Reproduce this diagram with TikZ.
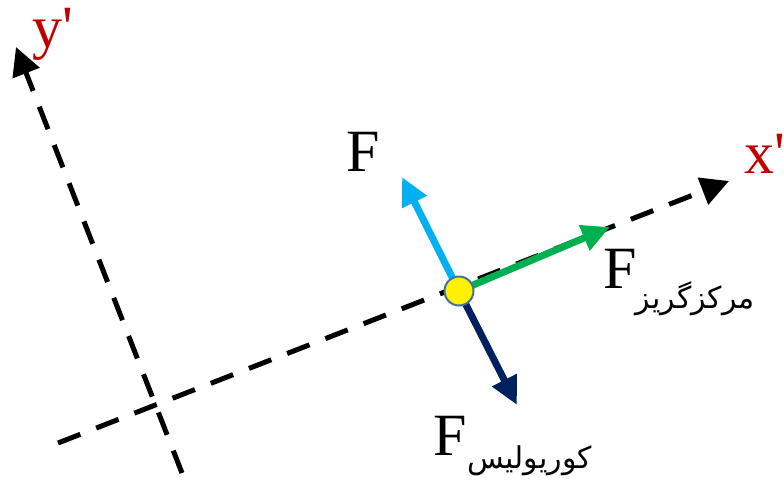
\documentclass[tikz,border=0pt]{standalone}
\usepackage{fontspec}
\usepackage{graphicx}
\usetikzlibrary{arrows.meta}
\TeXXeTstate=1
\newfontfamily\lser{Liberation Serif}
\newfontfamily\arabicfont[Script=Arabic]{DejaVu Sans}
\definecolor{fblue}{HTML}{00B0F0}
\definecolor{fgreen}{HTML}{00B050}
\definecolor{fnavy}{HTML}{002060}
\definecolor{axred}{HTML}{C00000}
\definecolor{rim}{HTML}{41719C}
\tikzset{
  axis/.style={line width=5pt, dash pattern=on 24pt off 17pt, -{Triangle[length=28pt,width=28pt]}},
  force/.style={line width=7pt, -{Triangle[length=28pt,width=26pt]}},
  big/.style={font=\lser\fontsize{60}{60}\selectfont, inner sep=0pt},
  sub/.style={font=\arabicfont\fontsize{30}{30}\selectfont, inner sep=0pt},
}
\begin{document}
\begin{tikzpicture}[x=1pt,y=-1pt]
\useasboundingbox (0,0) rectangle (784,485);
% axes
\coordinate (xs) at (58,443);
\coordinate (xe) at (729,181);
\coordinate (ys) at (182,473);
\coordinate (ye) at (16,47);
\draw[axis] (xs) -- (xe);
\draw[axis] (ys) -- (ye);
% forces
\coordinate (P) at (459,291);
\coordinate (tb) at (402,177);
\coordinate (tg) at (610,227);
\coordinate (tn) at (517,405);
\draw[force, fblue] (P) -- (tb);
\draw[force, fgreen] (P) -- (tg);
\draw[force, fnavy] (P) -- (tn);
\node[circle, draw=rim, line width=2pt, fill=yellow, minimum size=29pt, inner sep=0pt] (p) at (P) {};
% labels
\node[big, anchor=base west] (Fb) at (346,171) {F};
\node[big, anchor=base west] (Fg) at (603,288) {F};
\node[big, anchor=base west] (Fn) at (433,455) {F};
\node[sub, anchor=base east] (sg) at (755,308) {\beginR مرکزگریز\endR};
\node[sub, anchor=base east] (sn) at (592,468) {\beginR کوریولیس\endR};
\node[big, text=axred, anchor=base west] (xl) at (744,173) {x'};
\node[big, text=axred, anchor=base west] (yl) at (32,47) {y'};
\end{tikzpicture}
\end{document}
